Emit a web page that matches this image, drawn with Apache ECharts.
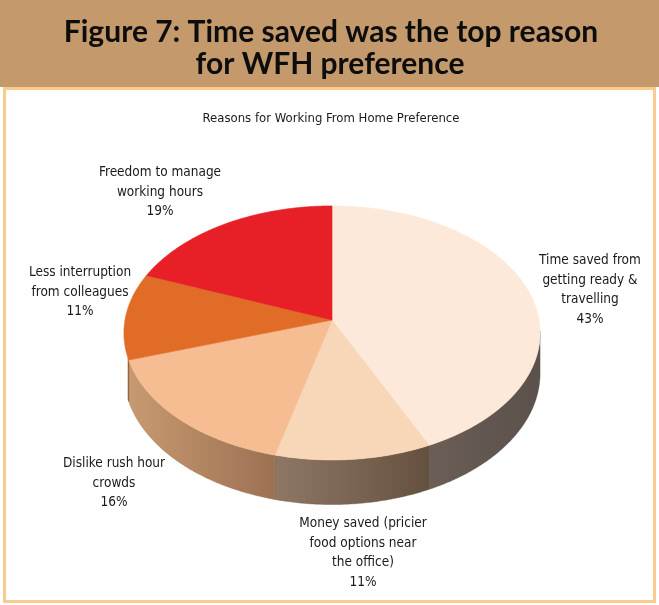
<!DOCTYPE html>
<html>
<head>
<meta charset="utf-8">
<script src="https://cdn.jsdelivr.net/npm/echarts@6/dist/echarts.min.js"></script>
<style>
  html, body { margin: 0; padding: 0; background: #ffffff; }
  #chart { width: 659px; height: 605px; }
</style>
</head>
<body>
<div id="chart"></div>
<script>
// ---- data ----
var categories = [
  'Time saved from\ngetting ready &\ntravelling',
  'Money saved (pricier\nfood options near\nthe office)',
  'Dislike rush hour\ncrowds',
  'Less interruption\nfrom colleagues',
  'Freedom to manage\nworking hours'
];
var values = [43, 11, 16, 11, 19];
var titleLines = ['Figure 7: Time saved was the top reason', 'for WFH preference'];
var chartSubtitle = 'Reasons for Working From Home Preference';

// ---- styling / layout (not data) ----
var topColors = ['#fde9da', '#f8d6b8', '#f5bd91', '#e06c27', '#e71f27'];
var sideColors = [
  ['#6a5e56', '#5b514b'],
  ['#8f7765', '#65513f'],
  ['#c89a70', '#9c7153'],
  ['#b0643a', '#8a4e2c'],
  ['#a8241f', '#7c1b17']
];
var labelPos = [[590, 290], [363, 553], [114, 483], [80, 292], [160, 192]];
var CX = 332, CY = 320, A = 207, B = 125.7, E = 0.102, H = 40;
var wallStart = 95, wallEnd = 253;
var labelFont = '13.5px "Liberation Sans Narrow", "DejaVu Sans Condensed", sans-serif';

var total = values.reduce(function (s, v) { return s + v; }, 0);
var cum = [0];
values.forEach(function (v, i) { cum.push(cum[i] + v); });

function pt(deg) {
  var t = deg * Math.PI / 180;
  var d = 1 + E * Math.cos(t);
  return [CX + A * Math.sin(t) / d, CY - B * Math.cos(t) / d];
}
function ptBottom(deg) {
  var t = deg * Math.PI / 180;
  var d = 1 + E * Math.cos(t);
  var p = pt(deg);
  return [p[0], p[1] + H / d];
}
function arc(a, b, fn) {
  var pts = [];
  var n = Math.max(2, Math.ceil(Math.abs(b - a) / 0.5));
  for (var i = 0; i <= n; i++) pts.push(fn(a + (b - a) * i / n));
  return pts;
}

function renderItem(params, api) {
  var i = params.dataIndex;
  var v = api.value(0);
  var s = cum[i] / total * 360;
  var e = (cum[i] + v) / total * 360;
  var children = [];

  var topPts = [[CX, CY]].concat(arc(s, e, pt));
  children.push({
    type: 'polygon',
    shape: { points: topPts },
    style: { fill: topColors[i], stroke: topColors[i], lineWidth: 0.6 },
    z2: 10
  });

  var a = Math.max(s, wallStart), b = Math.min(e, wallEnd);
  if (b > a) {
    var upper = arc(a, b, pt);
    var lower = arc(b, a, ptBottom);
    children.push({
      type: 'polygon',
      shape: { points: upper.concat(lower) },
      style: {
        fill: new echarts.graphic.LinearGradient(0, 0, 1, 0, [
          { offset: 0, color: sideColors[i][0] },
          { offset: 1, color: sideColors[i][1] }
        ]),
        stroke: sideColors[i][1], lineWidth: 0.4
      },
      z2: 2
    });
  }

  children.push({
    type: 'text',
    style: {
      text: categories[i] + '\n' + v + '%',
      x: labelPos[i][0], y: labelPos[i][1],
      align: 'center', verticalAlign: 'middle',
      font: labelFont, lineHeight: 19.5, fill: '#1a1a1a'
    },
    z2: 20
  });

  return { type: 'group', children: children };
}

var titleFont = 'bold 30px Lato, "Noto Sans", sans-serif';
var chart = echarts.init(document.getElementById('chart'), null, { renderer: 'canvas' });
chart.setOption({
  backgroundColor: '#ffffff',
  animation: false,
  graphic: [
    { type: 'rect', shape: { x: 0, y: 0, width: 659, height: 87 }, style: { fill: '#c4996b' }, z: -10 },
    { type: 'rect', shape: { x: 4.5, y: 88.5, width: 650, height: 513 },
      style: { fill: '#ffffff', stroke: '#f9cb90', lineWidth: 3 }, z: -10 },
    { type: 'text', style: { text: titleLines[0], x: 331, y: 32, align: 'center', verticalAlign: 'middle', font: titleFont, fill: '#0d0d0d' }, z: 5 },
    { type: 'text', style: { text: titleLines[1], x: 330, y: 64, align: 'center', verticalAlign: 'middle', font: titleFont, fill: '#0d0d0d' }, z: 5 },
    { type: 'text', style: { text: chartSubtitle, x: 331, y: 119, align: 'center', verticalAlign: 'middle',
      font: '13px "Liberation Sans Narrow", "DejaVu Sans Condensed", sans-serif', fill: '#1a1a1a' }, z: 5 }
  ],
  series: [{
    type: 'custom',
    coordinateSystem: 'none',
    renderItem: renderItem,
    data: values.map(function (v) { return [v]; })
  }]
});
</script>
</body>
</html>
